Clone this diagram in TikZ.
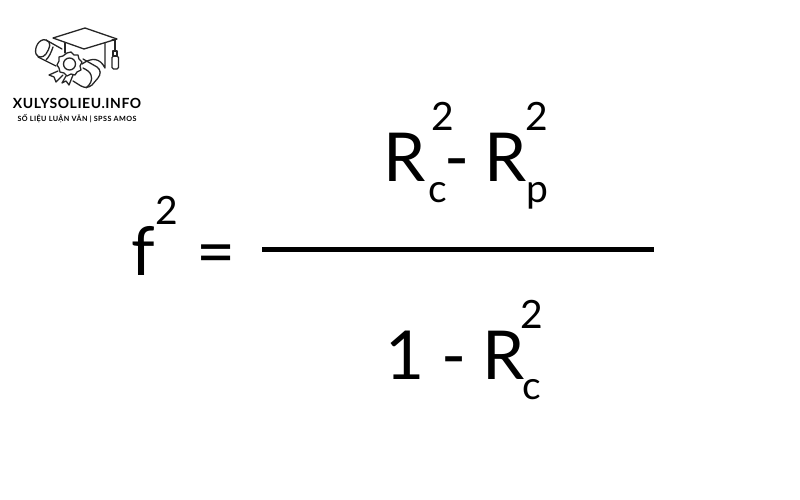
\documentclass[tikz,border=0pt]{standalone}
\usepackage{fontspec}
\setmainfont{Lato}
\begin{document}
\begin{tikzpicture}[x=1pt,y=-1pt,
  big/.style={inner sep=0pt,anchor=base west,font=\fontsize{67.5}{67}\selectfont},
  small/.style={inner sep=0pt,anchor=base west,font=\fontsize{39}{40}\selectfont},
  logoline/.style={line width=1.3pt,line join=round,line cap=round,black!85}]
\useasboundingbox (0,0) rectangle (800,500);
\fill[white] (0,0) rectangle (800,500);
% logo: scroll
\draw[logoline] (46,40) .. controls (39,38) and (34,48) .. (36,54) .. controls (38,58) and (43,58) .. (46,54) .. controls (50,48) and (52,42) .. (46,40);
\draw[logoline] (46,40) -- (62,49);
\draw[logoline] (38,57) -- (56,66);
\draw[logoline] (53,47) .. controls (51,53) and (49,57) .. (46,60);
\draw[logoline] (83,59) -- (97,67) .. controls (101,70) and (101,74) .. (98,78) -- (92,85) .. controls (88,88) and (85,88) .. (81,86) -- (73,81);
\draw[logoline] (86,88) .. controls (90,85) and (93,80) .. (91,75) .. controls (90,72) and (87,70) .. (83,68);
% logo: seal
\draw[logoline] (67,53) -- (71,52) -- (74,55) -- (78,55) -- (79,59) -- (82,62) -- (80,66) -- (81,70) -- (77,72) -- (75,75) -- (71,74) -- (67,76) -- (64,73) -- (60,72) -- (59,68) -- (57,65) -- (59,61) -- (59,57) -- (63,56) -- cycle;
\draw[logoline] (69.5,64) circle (6pt);
\draw[logoline] (58,71) -- (49,75) -- (54,77) -- (56,82) -- (63,75);
\draw[logoline] (66,76) -- (62,83) -- (66,81) -- (69,85) -- (73,75);
% logo: cap
\filldraw[logoline,fill=white] (53,38) -- (85,28) -- (117,39) -- (84,49) -- cycle;
\draw[logoline] (65,43) -- (65,53);
\draw[logoline] (82,64) .. controls (92,57) and (100,58) .. (105,68) -- (105,43);
\draw[logoline] (112,40) -- (115,40) -- (115,51);
\draw[logoline] (113,51) -- (117,51) -- (117,56) -- (113,56) -- cycle;
\draw[logoline,rounded corners=1.5pt] (112,56) rectangle (118.5,69);
% logo text
\node[inner sep=0pt,anchor=base] (brand) at (77,109) {\fontsize{14}{14}\selectfont\bfseries\addfontfeature{LetterSpace=4}XULYSOLIEU.INFO};
\node[inner sep=0pt,anchor=base] (tag) at (77,122) {\fontsize{7.2}{7}\selectfont\bfseries\addfontfeature{LetterSpace=6}SỐ LIỆU LUẬN VĂN | SPSS AMOS};
% formula
\node[big] (f) at (131,275) {f};
\node[small] (f2) at (155.5,224.5) {2};
\node[big] (eq) at (196,275) {=};
\coordinate (barl) at (262,249.5);
\coordinate (barr) at (654,249.5);
\draw[line width=5.5pt] (barl) -- (barr);
\node[big] (r1) at (383,181) {R};
\node[small] (r1s) at (431.5,131) {2};
\node[small] (r1c) at (428,202) {c};
\node[big] (m1) at (444,181) {-};
\node[big] (r2) at (484,181) {R};
\node[small] (r2s) at (525,131) {2};
\node[small] (r2p) at (526,202) {p};
\node[big] (one) at (385,379) {1};
\node[big] (m2) at (441,379) {-};
\node[big] (r3) at (482,379) {R};
\node[small] (r3s) at (520.5,328) {2};
\node[small] (r3c) at (522,399) {c};
\end{tikzpicture}
\end{document}
